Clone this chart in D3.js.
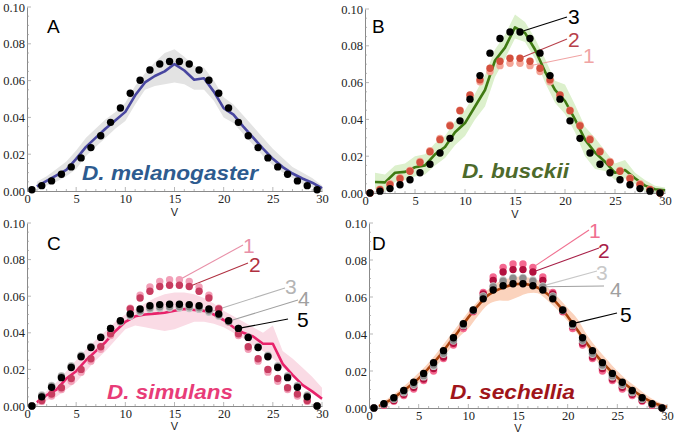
<!DOCTYPE html>
<html><head><meta charset="utf-8">
<script src="https://cdn.jsdelivr.net/npm/d3@7"></script>
<style>body{margin:0;background:#fff}svg{display:block}</style>
</head><body><svg id="c" width="677" height="435"></svg>
<script>
// ---------- data ----------
const xTicks = [0, 5, 10, 15, 20, 25, 30];
const yTicks = [0.00, 0.02, 0.04, 0.06, 0.08, 0.10];
const vDots = [0.5,1.5,2.5,3.5,4.5,5.5,6.5,7.5,8.5,9.5,10.5,11.5,12.5,13.5,14.5,15.5,16.5,17.5,18.5,19.5,20.5,21.5,22.5,23.5,24.5,25.5,26.5,27.5,28.5,29.5];
const vLine = [1,2,3,4,5,6,7,8,9,10,11,12,13,14,15,16,17,18,19,20,21,22,23,24,25,26,27,28,29,30];

// A: D. melanogaster
const melDots = [0.0007,0.0029,0.0055,0.0091,0.0131,0.018,0.0236,0.030,0.0373,0.0451,0.0531,0.0602,0.0658,0.069,0.0704,0.0704,0.069,0.0658,0.0602,0.0531,0.0451,0.0373,0.030,0.0236,0.018,0.0131,0.0091,0.0055,0.0029,0.0007];
const melLine = [0.0025,0.0055,0.0085,0.0115,0.0175,0.024,0.029,0.034,0.0385,0.043,0.052,0.059,0.0625,0.065,0.069,0.0655,0.0605,0.0613,0.054,0.045,0.0415,0.035,0.029,0.023,0.0175,0.013,0.0095,0.0068,0.0045,0.0015];
const melHigh = [0.005,0.008,0.012,0.016,0.022,0.029,0.034,0.039,0.043,0.048,0.057,0.064,0.070,0.075,0.077,0.073,0.068,0.067,0.060,0.051,0.047,0.041,0.035,0.029,0.023,0.018,0.013,0.010,0.007,0.003];
const melLow  = [0.000,0.003,0.005,0.008,0.012,0.019,0.024,0.029,0.034,0.038,0.047,0.055,0.057,0.058,0.059,0.058,0.055,0.055,0.049,0.040,0.037,0.031,0.025,0.019,0.014,0.010,0.007,0.004,0.002,0.000];

// B: D. busckii
const busDots1 = [0.000,0.002,0.005,0.0083,0.0123,0.0172,0.023,0.0296,0.037,0.045,0.0528,0.0605,0.066,0.0692,0.0705,0.0705,0.0692,0.066,0.0605,0.0528,0.045,0.037,0.0296,0.023,0.0172,0.0123,0.0083,0.005,0.002,0.000];
const busDots2 = [0.000,0.0018,0.0045,0.0078,0.0118,0.0166,0.0224,0.029,0.0365,0.0447,0.0533,0.0615,0.0678,0.0716,0.0732,0.0732,0.0716,0.0678,0.0615,0.0533,0.0447,0.0365,0.029,0.0224,0.0166,0.0118,0.0078,0.0045,0.0018,0.000];
const busDots3 = [0.000,0.001,0.0024,0.0045,0.0072,0.011,0.0156,0.0217,0.0297,0.0392,0.051,0.0638,0.076,0.084,0.0875,0.0875,0.084,0.076,0.0638,0.051,0.0392,0.0297,0.0217,0.0156,0.011,0.0072,0.0045,0.0024,0.001,0.000];
const busLine = [0.006,0.0058,0.011,0.0115,0.014,0.015,0.021,0.025,0.033,0.038,0.047,0.056,0.072,0.079,0.090,0.087,0.078,0.066,0.056,0.050,0.040,0.029,0.022,0.017,0.011,0.0125,0.008,0.004,0.002,0.0015];
const busHigh = [0.011,0.010,0.015,0.016,0.020,0.021,0.027,0.031,0.039,0.045,0.054,0.064,0.078,0.086,0.097,0.093,0.084,0.073,0.061,0.059,0.048,0.036,0.030,0.023,0.016,0.018,0.011,0.007,0.004,0.003];
const busLow  = [0.002,0.001,0.006,0.007,0.009,0.010,0.015,0.019,0.026,0.031,0.040,0.047,0.063,0.073,0.084,0.082,0.073,0.060,0.049,0.043,0.033,0.020,0.013,0.012,0.007,0.008,0.005,0.001,0.000,0.000];

// C: D. simulans
const simDots1 = [0.000,0.0025,0.0055,0.009,0.0135,0.0185,0.0245,0.031,0.0385,0.046,0.0535,0.0605,0.065,0.068,0.069,0.069,0.068,0.065,0.0605,0.0535,0.046,0.0385,0.031,0.0245,0.0185,0.0135,0.009,0.0055,0.0025,0.000];
const simDots2 = [0.000,0.003,0.0065,0.010,0.015,0.020,0.0258,0.0324,0.0395,0.046,0.053,0.059,0.0627,0.0653,0.066,0.066,0.0653,0.0627,0.059,0.053,0.046,0.0395,0.0324,0.0258,0.020,0.015,0.010,0.0065,0.003,0.000];
const simDots3 = [0.000,0.006,0.0112,0.0165,0.022,0.0277,0.0326,0.0377,0.0423,0.046,0.049,0.0512,0.0528,0.0533,0.0535,0.0535,0.0533,0.0528,0.0512,0.049,0.046,0.0423,0.0377,0.0326,0.0277,0.022,0.0165,0.0112,0.006,0.000];
const simDots4 = [0.000,0.0055,0.0107,0.016,0.0215,0.0273,0.0323,0.0376,0.0424,0.0463,0.0497,0.052,0.0537,0.0542,0.0544,0.0544,0.0542,0.0537,0.052,0.0497,0.0463,0.0424,0.0376,0.0323,0.0273,0.0215,0.016,0.0107,0.0055,0.000];
const simDots5 = [0.000,0.005,0.0102,0.0155,0.021,0.0269,0.032,0.0375,0.0424,0.0466,0.0503,0.053,0.0548,0.0554,0.0556,0.0556,0.0554,0.0548,0.053,0.0503,0.0466,0.0424,0.0375,0.032,0.0269,0.021,0.0155,0.0102,0.005,0.000];
const simLine = [0.002,0.006,0.009,0.015,0.019,0.025,0.030,0.035,0.041,0.046,0.049,0.050,0.0505,0.051,0.052,0.053,0.0525,0.052,0.050,0.047,0.043,0.040,0.038,0.034,0.034,0.023,0.017,0.0115,0.008,0.004];
const simHigh = [0.003,0.008,0.013,0.019,0.025,0.031,0.036,0.041,0.046,0.050,0.053,0.056,0.059,0.061,0.062,0.062,0.061,0.059,0.056,0.052,0.049,0.046,0.043,0.040,0.044,0.030,0.026,0.021,0.016,0.010];
const simLow  = [0.000,0.003,0.005,0.009,0.013,0.019,0.025,0.030,0.036,0.042,0.044,0.043,0.042,0.041,0.042,0.044,0.046,0.046,0.045,0.043,0.040,0.037,0.033,0.030,0.026,0.021,0.016,0.012,0.007,0.003];

// D: D. sechellia
const secDots1 = [0.000,0.0014,0.0036,0.0067,0.0103,0.0148,0.020,0.0267,0.034,0.043,0.052,0.0625,0.0708,0.076,0.0778,0.0778,0.076,0.0708,0.0625,0.052,0.043,0.034,0.0267,0.020,0.0148,0.0103,0.0067,0.0036,0.0014,0.000];
const secDots2 = [0.000,0.0018,0.0041,0.0074,0.0112,0.0157,0.0213,0.0276,0.035,0.044,0.0525,0.0616,0.069,0.0735,0.0748,0.0748,0.0735,0.069,0.0616,0.0525,0.044,0.035,0.0276,0.0213,0.0157,0.0112,0.0074,0.0041,0.0018,0.000];
const secDots3 = [0.000,0.002,0.0047,0.0083,0.0123,0.0168,0.0225,0.029,0.0362,0.0445,0.0527,0.0606,0.066,0.0692,0.0706,0.0706,0.0692,0.066,0.0606,0.0527,0.0445,0.0362,0.029,0.0225,0.0168,0.0123,0.0083,0.0047,0.002,0.000];
const secDots4 = [0.000,0.0021,0.005,0.0088,0.0128,0.0175,0.0232,0.0296,0.0366,0.0448,0.0528,0.0602,0.0655,0.0685,0.070,0.070,0.0685,0.0655,0.0602,0.0528,0.0448,0.0366,0.0296,0.0232,0.0175,0.0128,0.0088,0.005,0.0021,0.000];
const secDots5 = [0.000,0.0023,0.0056,0.0095,0.0139,0.0187,0.0245,0.031,0.038,0.0456,0.053,0.059,0.0638,0.0661,0.0672,0.0672,0.0661,0.0638,0.059,0.053,0.0456,0.038,0.031,0.0245,0.0187,0.0139,0.0095,0.0056,0.0023,0.000];
const secLine = [0.001,0.0038,0.0075,0.0115,0.016,0.0215,0.0275,0.0345,0.0415,0.049,0.0555,0.061,0.064,0.066,0.067,0.0668,0.065,0.0615,0.0562,0.0495,0.042,0.0345,0.0278,0.0218,0.0165,0.012,0.008,0.0045,0.002,0.0005];
const secHigh = [0.002,0.0055,0.0095,0.014,0.019,0.0245,0.031,0.038,0.045,0.052,0.058,0.064,0.068,0.070,0.071,0.0705,0.069,0.065,0.060,0.054,0.048,0.039,0.032,0.026,0.020,0.015,0.011,0.0068,0.0035,0.0015];
const secLow  = [0.000,0.002,0.0055,0.009,0.0135,0.019,0.024,0.031,0.038,0.043,0.050,0.056,0.058,0.058,0.060,0.062,0.062,0.058,0.053,0.047,0.040,0.032,0.025,0.019,0.0135,0.009,0.0055,0.0025,0.0005,0.000];

// ---------- layout / style ----------
const panels = [
  {x0:27, x1:322, yb:191, yt:7, letter:"A", letterAt:[47,33], species:"D. melanogaster", spAt:[82,180], spW:176, spColor:"#2d5b8f",
   high:melHigh, low:melLow, band:"#e3e3e3", line:melLine, lineColor:"#4846a0", curve:d3.curveLinear,
   dots:[{v:melDots,c:"#000"}], labels:[], vAt:216},
  {x0:365, x1:665, yb:193, yt:9, letter:"B", letterAt:[372,33], species:"D. busckii", spAt:[462,178], spW:107, spColor:"#4d6a2b",
   high:busHigh, low:busLow, band:"#dcf0cc", line:busLine, lineColor:"#3f7a12", curve:d3.curveLinear,
   dots:[{v:busDots1,c:"#f4a496"},{v:busDots2,c:"#d4503e"},{v:busDots3,c:"#000"}],
   labels:[{s:2,i:15,t:"3",c:"#000",end:[567,17],at:[568,24]},
           {s:1,i:15,t:"2",c:"#b8404a",end:[567,39],at:[568,47]},
           {s:0,i:16,t:"1",c:"#f0a4a4",end:[582,55],at:[583,63]}], vAt:218},
  {x0:27, x1:322, yb:406, yt:223, letter:"C", letterAt:[47,250], species:"D. simulans", spAt:[107,399], spW:126, spColor:"#e83c78",
   high:simHigh, low:simLow, band:"#fadbe5", line:simLine, lineColor:"#e8226a", curve:d3.curveLinear,
   dots:[{v:simDots1,c:"#f2a0b8"},{v:simDots2,c:"#c83c60"},{v:simDots3,c:"#c4c4c4"},{v:simDots4,c:"#8e8e8e"},{v:simDots5,c:"#000"}],
   labels:[{s:0,i:15,t:"1",c:"#e890a8",end:[243,245],at:[243,253]},
           {s:1,i:16,t:"2",c:"#b03040",end:[248,263],at:[249,272]},
           {s:2,i:18,t:"3",c:"#b4b4b4",end:[285,288],at:[285,294]},
           {s:3,i:20,t:"4",c:"#a0a0a0",end:[298,300],at:[298,306]},
           {s:4,i:21,t:"5",c:"#000",end:[288,319],at:[297,327]}], vAt:430},
  {x0:369, x1:667, yb:408, yt:223, letter:"D", letterAt:[372,250], species:"D. sechellia", spAt:[450,399], spW:125, spColor:"#a0151a",
   high:secHigh, low:secLow, band:"#fbd3bd", line:secLine, lineColor:"#a8420c", curve:d3.curveCatmullRom,
   dots:[{v:secDots1,c:"#f46890"},{v:secDots2,c:"#b2103e"},{v:secDots3,c:"#c8c8c8"},{v:secDots4,c:"#8c8c8c"},{v:secDots5,c:"#000"}],
   labels:[{s:0,i:16,t:"1",c:"#f07090",end:[589,230],at:[589,238]},
           {s:1,i:16,t:"2",c:"#a82048",end:[599,248],at:[598,258]},
           {s:2,i:17,t:"3",c:"#c8c8c8",end:[597,271],at:[596,280]},
           {s:3,i:17,t:"4",c:"#a0a0a0",end:[604,286],at:[610,297]},
           {s:4,i:20,t:"5",c:"#000",end:[617,313],at:[620,322]}], vAt:432}
];

const svg = d3.select("#c");
svg.append("rect").attr("width",677).attr("height",435).attr("fill","#fff");

panels.forEach(p => {
  const x = d3.scaleLinear().domain([0,30]).range([p.x0,p.x1]);
  const y = d3.scaleLinear().domain([0,0.10]).range([p.yb,p.yt]);
  const g = svg.append("g");

  // band
  const area = d3.area().x((d,i)=>x(vLine[i])).y0((d,i)=>y(p.low[i])).y1((d,i)=>y(p.high[i])).curve(p.curve);
  g.append("path").datum(p.high).attr("d",area).attr("fill",p.band);

  // axes
  const ax = g.append("g").attr("transform",`translate(0,${p.yb})`)
    .call(d3.axisBottom(x).tickValues(xTicks).tickFormat(d3.format("d")).tickSize(0).tickPadding(3));
  const ay = g.append("g").attr("transform",`translate(${p.x0},0)`)
    .call(d3.axisLeft(y).tickValues(yTicks).tickFormat(d3.format(".2f")).tickSize(0).tickPadding(2));
  [ax,ay].forEach(a=>{
    a.select(".domain").attr("stroke","#8a8a8a").attr("stroke-width",1);
    a.selectAll("text").attr("font-family","'Liberation Serif','Times New Roman',serif").attr("font-size",12.5).attr("fill","#222");
  });
  // inward ticks (major and minor)
  const xt = d3.range(1,31);
  g.selectAll(null).data(xt).enter().append("line")
    .attr("x1",d=>x(d)).attr("x2",d=>x(d)).attr("y1",p.yb).attr("y2",d=>p.yb-(d%5===0?4:2))
    .attr("stroke","#9a9a9a").attr("stroke-width",0.7);
  const yt = d3.range(1,21).map(k=>k*0.005);
  g.selectAll(null).data(yt).enter().append("line")
    .attr("y1",d=>y(d)).attr("y2",d=>y(d)).attr("x1",p.x0).attr("x2",(d,i)=>p.x0+((i+1)%4===0?4:2))
    .attr("stroke","#9a9a9a").attr("stroke-width",0.7);

  // leader lines (under dots)
  p.labels.forEach(l=>{
    const sx = x(vDots[l.i]), sy = y(p.dots[l.s].v[l.i]);
    g.append("line").attr("x1",sx).attr("y1",sy).attr("x2",l.end[0]).attr("y2",l.end[1])
      .attr("stroke",l.c).attr("stroke-width",1.1);
  });

  // line
  const ln = d3.line().x((d,i)=>x(vLine[i])).y(d=>y(d)).curve(p.curve);
  g.append("path").datum(p.line).attr("d",ln).attr("fill","none").attr("stroke",p.lineColor)
    .attr("stroke-width",2.6).attr("stroke-linejoin","round");

  // dots
  p.dots.forEach(s=>{
    g.selectAll(null).data(s.v).enter().append("circle")
      .attr("cx",(d,i)=>x(vDots[i])).attr("cy",d=>y(d)).attr("r",3.7).attr("fill",s.c);
  });

  // labels
  p.labels.forEach(l=>{
    g.append("text").attr("x",l.at[0]).attr("y",l.at[1]).text(l.t)
      .attr("font-family","'Liberation Sans',Arial,sans-serif").attr("font-size",21).attr("fill",l.c);
  });

  // panel letter
  g.append("text").attr("x",p.letterAt[0]).attr("y",p.letterAt[1]).text(p.letter)
    .attr("font-family","'Liberation Sans',Arial,sans-serif").attr("font-size",19).attr("fill","#000");
  // species
  g.append("text").attr("x",p.spAt[0]).attr("y",p.spAt[1]).text(p.species)
    .attr("font-family","'Liberation Sans',Arial,sans-serif").attr("font-size",20)
    .attr("textLength",p.spW).attr("lengthAdjust","spacingAndGlyphs")
    .attr("font-weight","bold").attr("font-style","italic").attr("fill",p.spColor);
  // axis label
  g.append("text").attr("x",(p.x0+p.x1)/2).attr("y",p.vAt).attr("text-anchor","middle").text("V")
    .attr("font-family","'Liberation Sans',Arial,sans-serif").attr("font-size",11).attr("fill","#222");
});
</script></body></html>
